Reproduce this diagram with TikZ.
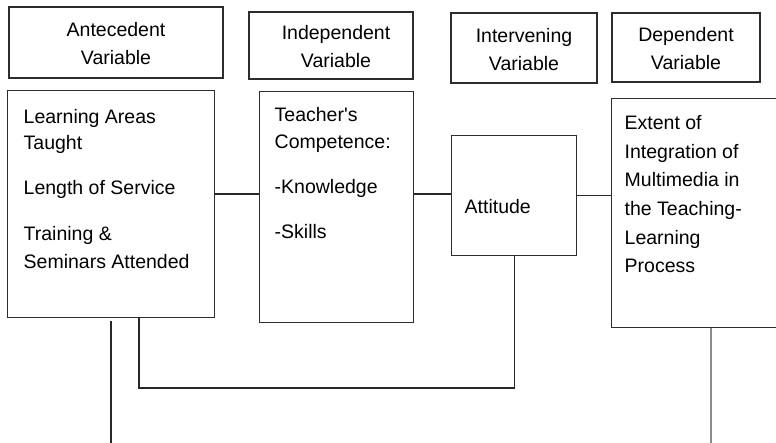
\documentclass[tikz,border=0pt]{standalone}
\usepackage{fontspec}
\setmainfont{Liberation Sans}
\newcommand{\txtfont}{\fontsize{19.5bp}{28bp}\selectfont}
\newcommand{\boxtext}[4]{\begin{minipage}[t][#2][t]{#1}\raggedright\leftskip=#3\relax\parindent=0pt\txtfont #4\end{minipage}}
\begin{document}
\begin{tikzpicture}[x=1bp,y=-1bp,
  framebox/.style={draw={rgb,255:red,45;green,45;blue,45},line width=1.4bp,rectangle,inner sep=0pt},
  headbox/.style={framebox,align=center,font=\txtfont},
  link/.style={draw={rgb,255:red,40;green,40;blue,40},line width=1.1bp},
  greylink/.style={draw={rgb,255:red,140;green,140;blue,140},line width=1.3bp}]
\useasboundingbox (0,0) rectangle (776,443);
% header boxes
\node[headbox,minimum width=214bp,minimum height=71bp] (hA) at (116,42.5) {\rule{0pt}{17bp}Antecedent\\Variable};
\node[headbox,minimum width=164bp,minimum height=67bp] (hB) at (331,45.5) {\rule{0pt}{17bp}\hspace*{10bp}Independent\\\hspace*{10bp}Variable};
\node[headbox,minimum width=146bp,minimum height=70bp] (hC) at (524,48) {\rule{0pt}{17bp}Intervening\\Variable};
\node[headbox,minimum width=148bp,minimum height=69bp] (hD) at (686,47.5) {\rule{0pt}{17bp}Dependent\\Variable};
% content boxes
\node[framebox,anchor=north west] (learn) at (7,90) {\boxtext{207bp}{227bp}{16bp}{\rule{0pt}{32.7bp}Learning Areas\\[-2bp]Taught\\[17bp]Length of Service\\[18bp]Training \&\\Seminars Attended}};
\node[framebox,anchor=north west] (teach) at (259,91) {\boxtext{154bp}{231bp}{15bp}{\rule{0pt}{30bp}Teacher\textquotesingle s\\[-1bp]Competence:\\[17bp]-Knowledge\\[17bp]-Skills}};
\node[framebox,anchor=north west] (att) at (451,135) {\boxtext{125bp}{120bp}{13bp}{\rule{0pt}{78bp}Attitude}};
\node[framebox,anchor=north west] (ext) at (611,98) {\boxtext{169bp}{229bp}{13bp}{\baselineskip=28.6bp\rule{0pt}{31bp}Extent of\\Integration of\\Multimedia in\\the Teaching-\\Learning\\Process}};
% connectors
\coordinate (hy) at (0,194);
\draw[link] (learn.east |- hy) -- (teach.west |- hy);
\draw[link] (teach.east |- hy) -- (att.west |- hy);
\draw[link] (att.east) -- (ext.west |- att.east);
\coordinate (loop) at (139,388);
\draw[link] (learn.south -| loop) -- (loop) -| (att.south);
\coordinate (l1) at (111,321);
\coordinate (l2) at (111,445);
\draw[link] (l1) -- (l2);
\coordinate (e2) at (711,445);
\draw[greylink] (ext.south -| e2) -- (e2);
\end{tikzpicture}
\end{document}
